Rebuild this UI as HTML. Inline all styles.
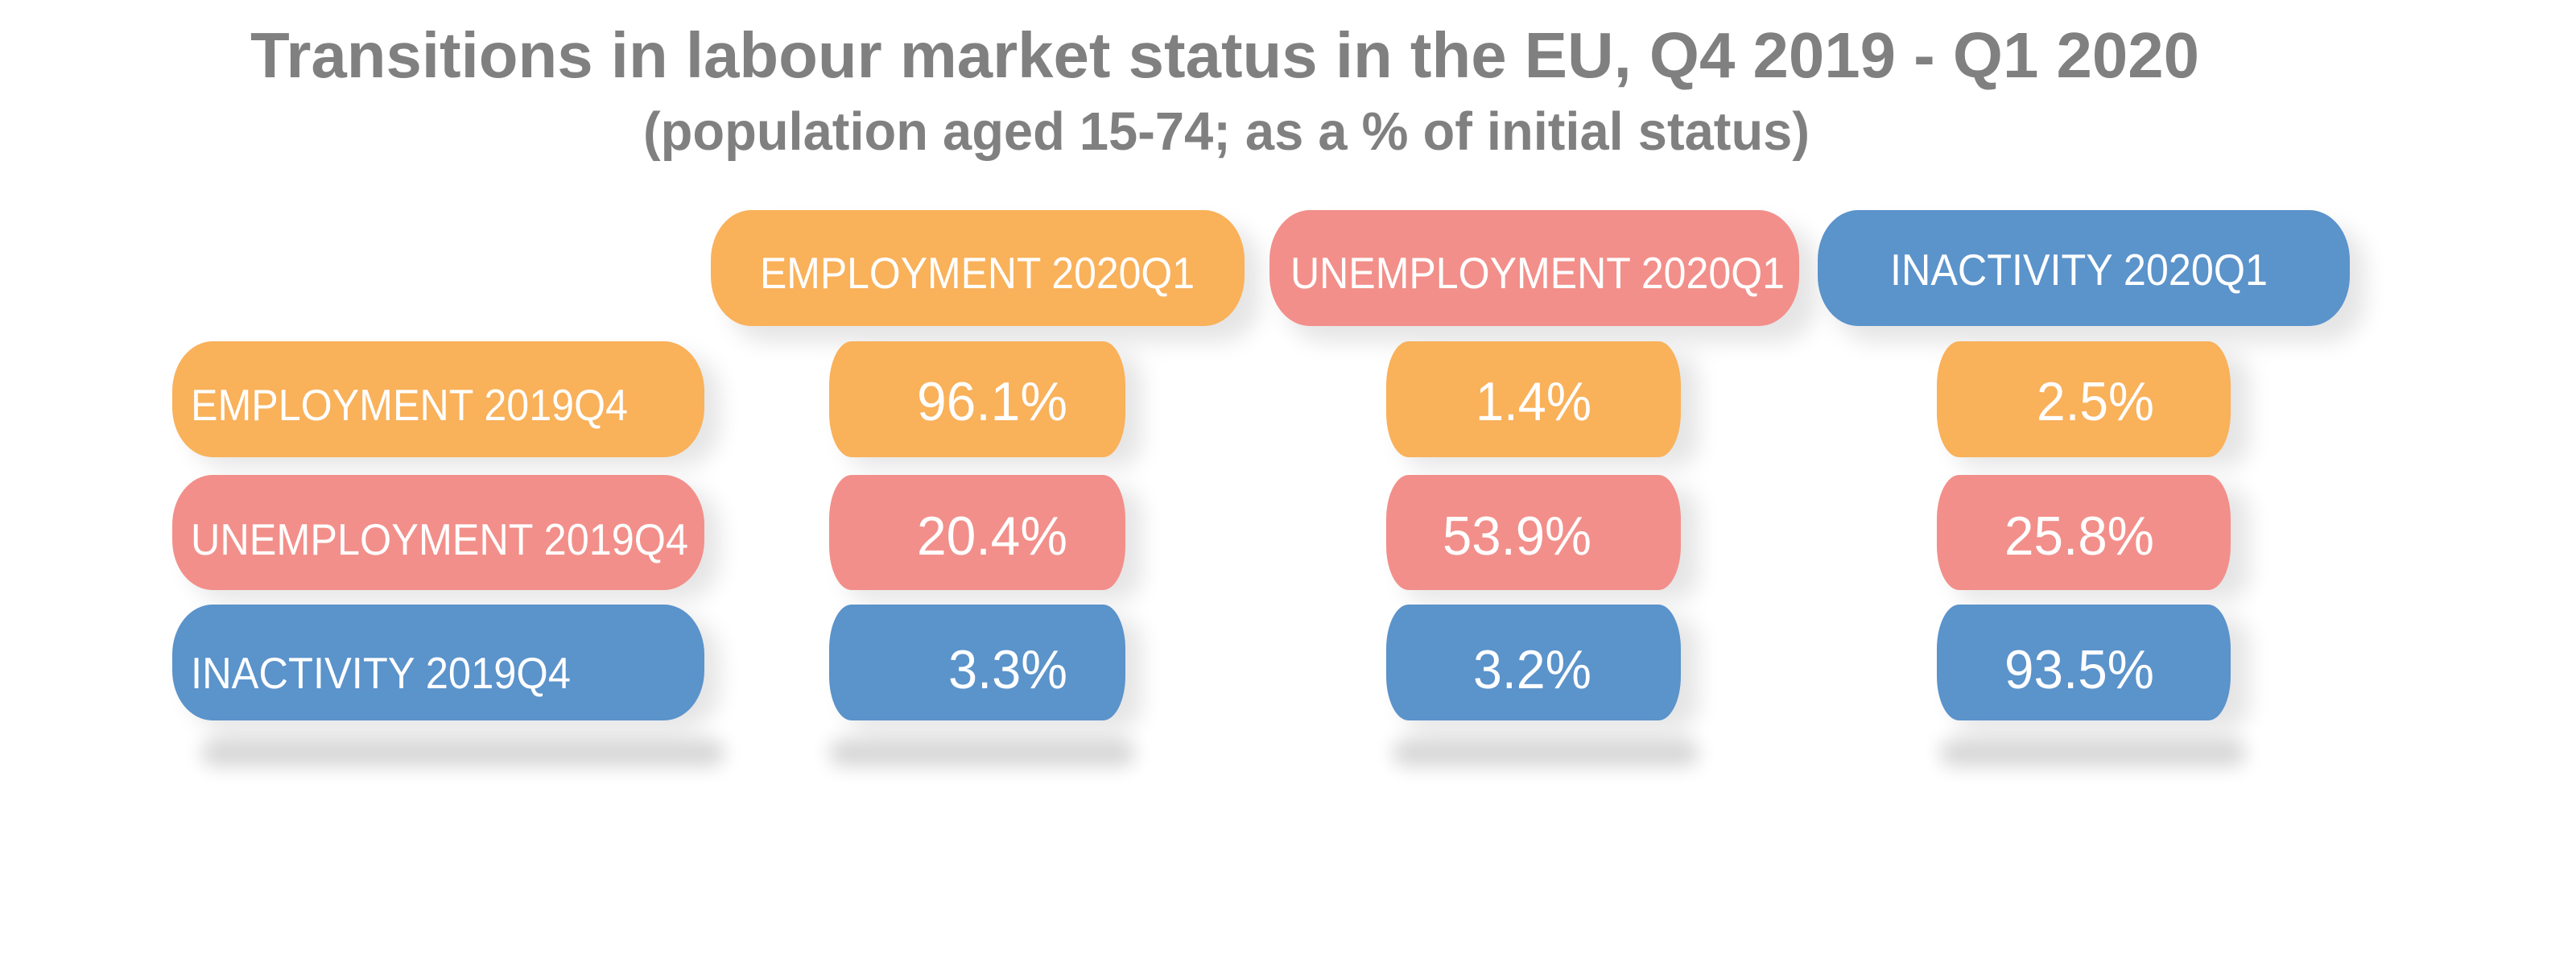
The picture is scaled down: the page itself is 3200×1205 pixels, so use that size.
<!DOCTYPE html>
<html><head><meta charset="utf-8"><style>
html,body{margin:0;padding:0;background:#fff;}
svg{display:block;}
text{font-family:"Liberation Sans Narrow","Liberation Sans",sans-serif;}
</style></head><body>
<svg width="3200" height="1205" viewBox="0 0 3200 1205" xmlns="http://www.w3.org/2000/svg">
<defs>
<filter id="sh" x="-20%" y="-30%" width="140%" height="160%"><feGaussianBlur stdDeviation="14"/></filter>
<filter id="sb" x="-20%" y="-100%" width="140%" height="300%"><feGaussianBlur stdDeviation="12"/></filter>
</defs>
<g fill="#808080" font-weight="bold">
<text x="311" y="96" font-size="80" textLength="2421" lengthAdjust="spacingAndGlyphs">Transitions in labour market status in the EU, Q4 2019 - Q1 2020</text>
<text x="799" y="186" font-size="67" textLength="1449" lengthAdjust="spacingAndGlyphs">(population aged 15-74; as a % of initial status)</text>
</g>
<!-- shadows -->
<g fill="#000" opacity="0.10" filter="url(#sh)">
<rect x="905" y="280" width="660" height="145" rx="50"/>
<rect x="1597" y="280" width="660" height="145" rx="50"/>
<rect x="2278" y="280" width="660" height="145" rx="50"/>
<rect x="234" y="440" width="660" height="140" rx="50"/>
<rect x="234" y="606" width="660" height="140" rx="50"/>
<rect x="234" y="767" width="660" height="140" rx="50"/>
<rect x="1050" y="440" width="368" height="140" rx="30"/>
<rect x="1050" y="606" width="368" height="140" rx="30"/>
<rect x="1050" y="767" width="368" height="140" rx="30"/>
<rect x="1742" y="440" width="368" height="140" rx="30"/>
<rect x="1742" y="606" width="368" height="140" rx="30"/>
<rect x="1742" y="767" width="368" height="140" rx="30"/>
<rect x="2426" y="440" width="368" height="140" rx="30"/>
<rect x="2426" y="606" width="368" height="140" rx="30"/>
<rect x="2426" y="767" width="368" height="140" rx="30"/>
</g>
<g fill="#000" opacity="0.16" filter="url(#sb)">
<rect x="250" y="918" width="650" height="34" rx="17"/>
<rect x="1030" y="918" width="380" height="34" rx="17"/>
<rect x="1730" y="918" width="380" height="34" rx="17"/>
<rect x="2410" y="918" width="380" height="34" rx="17"/>
</g>
<!-- header boxes -->
<rect x="883" y="261" width="663" height="144" rx="50" ry="62" fill="#F9B15A"/>
<rect x="1577" y="261" width="658" height="144" rx="50" ry="62" fill="#F28F8A"/>
<rect x="2258" y="261" width="661" height="144" rx="50" ry="62" fill="#5B93CB"/>
<!-- row labels -->
<rect x="214" y="424" width="661" height="144" rx="50" ry="62" fill="#F9B15A"/>
<rect x="214" y="590" width="661" height="143" rx="50" ry="62" fill="#F28F8A"/>
<rect x="214" y="751" width="661" height="144" rx="50" ry="62" fill="#5B93CB"/>
<!-- values -->
<g>
<rect x="1030" y="424" width="368" height="144" rx="28" ry="55" fill="#F9B15A"/>
<rect x="1030" y="590" width="368" height="143" rx="28" ry="55" fill="#F28F8A"/>
<rect x="1030" y="751" width="368" height="144" rx="28" ry="55" fill="#5B93CB"/>
<rect x="1722" y="424" width="366" height="144" rx="28" ry="55" fill="#F9B15A"/>
<rect x="1722" y="590" width="366" height="143" rx="28" ry="55" fill="#F28F8A"/>
<rect x="1722" y="751" width="366" height="144" rx="28" ry="55" fill="#5B93CB"/>
<rect x="2406" y="424" width="365" height="144" rx="28" ry="55" fill="#F9B15A"/>
<rect x="2406" y="590" width="365" height="143" rx="28" ry="55" fill="#F28F8A"/>
<rect x="2406" y="751" width="365" height="144" rx="28" ry="55" fill="#5B93CB"/>
</g>
<g fill="#fff" font-size="55">
<text x="944" y="358" textLength="540" lengthAdjust="spacingAndGlyphs">EMPLOYMENT 2020Q1</text>
<text x="1603" y="358" textLength="614" lengthAdjust="spacingAndGlyphs">UNEMPLOYMENT 2020Q1</text>
<text x="2348" y="354" textLength="469" lengthAdjust="spacingAndGlyphs">INACTIVITY 2020Q1</text>
<text x="237" y="522" textLength="543" lengthAdjust="spacingAndGlyphs">EMPLOYMENT 2019Q4</text>
<text x="237" y="689" textLength="618" lengthAdjust="spacingAndGlyphs">UNEMPLOYMENT 2019Q4</text>
<text x="237" y="855" textLength="472" lengthAdjust="spacingAndGlyphs">INACTIVITY 2019Q4</text>
</g>
<g fill="#fff" font-size="68">
<text x="1139" y="522" textLength="187" lengthAdjust="spacingAndGlyphs">96.1%</text>
<text x="1139" y="689" textLength="187" lengthAdjust="spacingAndGlyphs">20.4%</text>
<text x="1178" y="855" textLength="148" lengthAdjust="spacingAndGlyphs">3.3%</text>
<text x="1833" y="522" textLength="144" lengthAdjust="spacingAndGlyphs">1.4%</text>
<text x="1792" y="689" textLength="185" lengthAdjust="spacingAndGlyphs">53.9%</text>
<text x="1830" y="855" textLength="147" lengthAdjust="spacingAndGlyphs">3.2%</text>
<text x="2530" y="522" textLength="146" lengthAdjust="spacingAndGlyphs">2.5%</text>
<text x="2490" y="689" textLength="186" lengthAdjust="spacingAndGlyphs">25.8%</text>
<text x="2490" y="855" textLength="186" lengthAdjust="spacingAndGlyphs">93.5%</text>
</g>
</svg>
</body></html>
